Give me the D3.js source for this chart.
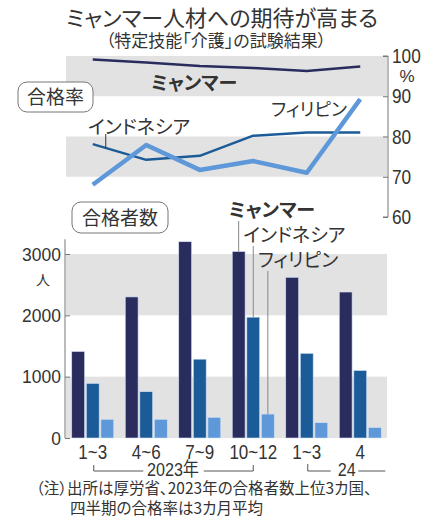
<!DOCTYPE html>
<html>
<head>
<meta charset="utf-8">
<script src="https://cdn.jsdelivr.net/npm/d3@7"></script>
<style>
  body { margin: 0; background: #fff; }
  text { fill: #333; }
  .jp { font-family: "Noto Sans CJK JP", sans-serif; font-feature-settings: "palt"; }
  .num { font-family: "Liberation Sans", "Noto Sans CJK JP", sans-serif; }
</style>
</head>
<body>
<svg id="drawing_region"></svg>
<script>
const periods = ['1~3', '4~6', '7~9', '10~12', '1~3', '4'];
const series = ['ミャンマー', 'インドネシア', 'フィリピン'];
const passRateMyanmar = [99.1, 98.4, 97.5, 97.0, 96.3, 97.4];
const passRateIndonesia = [78.1, 74.2, 75.2, 80.2, 81.0, 81.0];
const passRatePhilippines = [68.0, 77.9, 71.7, 73.9, 71.0, 89.3];
const passersMyanmar = [1410, 2300, 3200, 3040, 2620, 2380];
const passersIndonesia = [890, 755, 1285, 1970, 1380, 1100];
const passersPhilippines = [305, 305, 337, 390, 250, 170];
const rateTicks = [60, 70, 80, 90, 100];
const countTicks = [0, 1000, 2000, 3000];
const yearLabels = ['2023年', '24'];

const W = 439, H = 524;
const colors = ['#2a2c5e', '#1b5c98', '#5e98d9'];
const band = '#e2e2e2';

// squeeze numeric text horizontally (the source uses a condensed face)
function narrow(sel, s) {
    sel.each(function () {
        const t = d3.select(this);
        const xx = +t.attr('x') || 0;
        t.attr('x', xx / s).attr('transform', `scale(${s},1)`);
    });
}

const svg = d3.select('#drawing_region').attr('width', W).attr('height', H);

// title
svg.append('text').attr('class', 'jp')
    .attr('x', 222).attr('y', 26).attr('text-anchor', 'middle')
    .style('font-size', '22px').text('ミャンマー人材への期待が高まる');
svg.append('text').attr('class', 'jp')
    .attr('x', 216).attr('y', 47).attr('text-anchor', 'middle')
    .style('font-size', '17px').text('（特定技能「介護」の試験結果）');

// shared x
const x = d3.scaleBand().domain(d3.range(periods.length)).range([66, 387]);
const cx = i => x(i) + x.bandwidth() / 2;

// ---------- pass rate lines ----------
const yR = d3.scaleLinear().domain([60, 100]).range([217, 56]);
const gTop = svg.append('g');

[[90, 100], [70, 80]].forEach(b => {
    gTop.append('rect').attr('x', 66).attr('width', 387 - 66)
        .attr('y', yR(b[1])).attr('height', yR(b[0]) - yR(b[1]))
        .attr('fill', band);
});

const rAxis = gTop.append('g').attr('transform', 'translate(388,0)')
    .call(d3.axisRight(yR).tickValues(rateTicks).tickSize(-5).tickPadding(4));
rAxis.select('.domain').attr('stroke', '#777').attr('d', `M-5,${yR(100)}H0V${yR(60)}H-5`);
rAxis.selectAll('line').attr('stroke', '#777');
rAxis.selectAll('text').attr('class', 'num').style('font-size', '21px').attr('fill', '#333')
    .call(narrow, 0.82);
gTop.append('text').attr('class', 'num').attr('x', 407).attr('y', 82)
    .attr('text-anchor', 'middle').style('font-size', '17px').text('%');

const line = d3.line().x((d, i) => cx(i)).y(d => yR(d));
const rates = [passRateMyanmar, passRateIndonesia, passRatePhilippines];
const widths = [2.5, 2.5, 4.5];
[1, 0, 2].forEach(k => {
    gTop.append('path').datum(rates[k])
        .attr('d', line).attr('fill', 'none')
        .attr('stroke', colors[k]).attr('stroke-width', widths[k])
        .attr('stroke-linejoin', 'round');
});

// leader for Indonesia line
const lx = cx(0) + 13;
const ly = yR(passRateIndonesia[0] + (passRateIndonesia[1] - passRateIndonesia[0]) * 13 / x.step());
gTop.append('line').attr('x1', lx).attr('x2', lx).attr('y1', 134).attr('y2', ly)
    .attr('stroke', '#333').attr('stroke-width', 1);

gTop.append('text').attr('class', 'jp').attr('x', 194).attr('y', 90)
    .attr('text-anchor', 'middle').style('font-size', '19px').style('font-weight', 'bold')
    .attr('fill', '#111').text(series[0]);
gTop.append('text').attr('class', 'jp').attr('x', 88).attr('y', 134)
    .style('font-size', '19px').text(series[1]);
gTop.append('text').attr('class', 'jp').attr('x', 271).attr('y', 116)
    .style('font-size', '18px').text(series[2]);

// box label
gTop.append('rect').attr('x', 18).attr('y', 82).attr('width', 75).attr('height', 30)
    .attr('rx', 9).attr('fill', '#fff').attr('stroke', '#777');
gTop.append('text').attr('class', 'jp').attr('x', 55.5).attr('y', 104)
    .attr('text-anchor', 'middle').style('font-size', '19px').text('合格率');

// ---------- passers bars ----------
const yC = d3.scaleLinear().domain([0, 3000]).range([438, 254]);
const x1 = d3.scaleBand().domain(d3.range(series.length)).range([-21, 21]).paddingInner(0.12);
const gBot = svg.append('g');

[[0, 1000], [2000, 3000]].forEach(b => {
    gBot.append('rect').attr('x', 66).attr('width', 387 - 66)
        .attr('y', yC(b[1])).attr('height', yC(b[0]) - yC(b[1]))
        .attr('fill', band);
});

const lAxis = gBot.append('g').attr('transform', 'translate(65,0)')
    .call(d3.axisLeft(yC).tickValues(countTicks).tickSize(-5).tickPadding(4)
        .tickFormat(d3.format('d')));
lAxis.select('.domain').attr('stroke', '#777').attr('d', `M0,${yC(3240)}V${yC(0)}`);
lAxis.selectAll('line').attr('stroke', '#777');
lAxis.selectAll('text').attr('class', 'num').style('font-size', '19px').attr('fill', '#333')
    .call(narrow, 0.92);
gBot.append('text').attr('class', 'jp').attr('x', 43).attr('y', 285)
    .attr('text-anchor', 'middle').style('font-size', '14px').text('人');

const counts = [passersMyanmar, passersIndonesia, passersPhilippines];
counts.forEach((vals, k) => {
    gBot.selectAll(null).data(vals).enter().append('rect')
        .attr('x', (d, i) => cx(i) + x1(k))
        .attr('width', x1.bandwidth())
        .attr('y', d => yC(d))
        .attr('height', d => yC(0) - yC(d))
        .attr('fill', colors[k])
        .attr('stroke', '#cfe0f5').attr('stroke-width', 0.6);
});

// bar labels with leaders (pointing at 10~12 group)
const gi = 3;
const labY = [210, 235, 260];
series.forEach((s, k) => {
    const bx = cx(gi) + x1(k) + x1.bandwidth() / 2;
    gBot.append('line').attr('x1', bx).attr('x2', bx)
        .attr('y1', labY[k] + 11).attr('y2', yC(counts[k][gi]))
        .attr('stroke', '#888').attr('stroke-width', 1);
    gBot.append('text').attr('class', 'jp').attr('x', bx - 10).attr('y', labY[k] + 7)
        .style('font-size', '19px')
        .style('font-weight', k === 0 ? 'bold' : 'normal')
        .attr('fill', k === 0 ? '#111' : '#333')
        .text(s);
});

gBot.append('rect').attr('x', 72).attr('y', 202).attr('width', 96).attr('height', 31)
    .attr('rx', 9).attr('fill', '#fff').attr('stroke', '#777');
gBot.append('text').attr('class', 'jp').attr('x', 120).attr('y', 225)
    .attr('text-anchor', 'middle').style('font-size', '19px').text('合格者数');

// x labels
gBot.selectAll(null).data(periods).enter().append('text')
    .attr('class', 'num').attr('x', (d, i) => cx(i)).attr('y', 459)
    .attr('text-anchor', 'middle').style('font-size', '20px').text(d => d)
    .call(narrow, 0.85);

// year brackets
const by = 471;
const yr = gBot.append('g').attr('stroke', '#555').attr('fill', 'none');
yr.append('path').attr('d', `M${cx(0) + 1},${by - 6}V${by}H${cx(1) - 3}M${cx(2) + 4},${by}H${cx(3)}V${by - 6}`);
yr.append('path').attr('d', `M${cx(4) + 1},${by - 7}V${by}H${cx(4) + 24}M${cx(5) - 2},${by}H${cx(5) + 25}`);
gBot.append('text').attr('class', 'num').attr('x', (cx(1) + cx(2)) / 2).attr('y', 476)
    .attr('text-anchor', 'middle').style('font-size', '19px').text(yearLabels[0])
    .call(narrow, 0.85);
gBot.append('text').attr('class', 'num').attr('x', cx(4) + 40).attr('y', 476)
    .attr('text-anchor', 'middle').style('font-size', '19px').text(yearLabels[1])
    .call(narrow, 0.85);

// note
svg.append('text').attr('class', 'jp').attr('x', 36).attr('y', 494)
    .style('font-size', '15.5px').text('（注）出所は厚労省、2023年の合格者数上位3カ国、');
svg.append('text').attr('class', 'jp').attr('x', 70).attr('y', 514)
    .style('font-size', '15.5px').text('四半期の合格率は3カ月平均');
</script>
</body>
</html>
